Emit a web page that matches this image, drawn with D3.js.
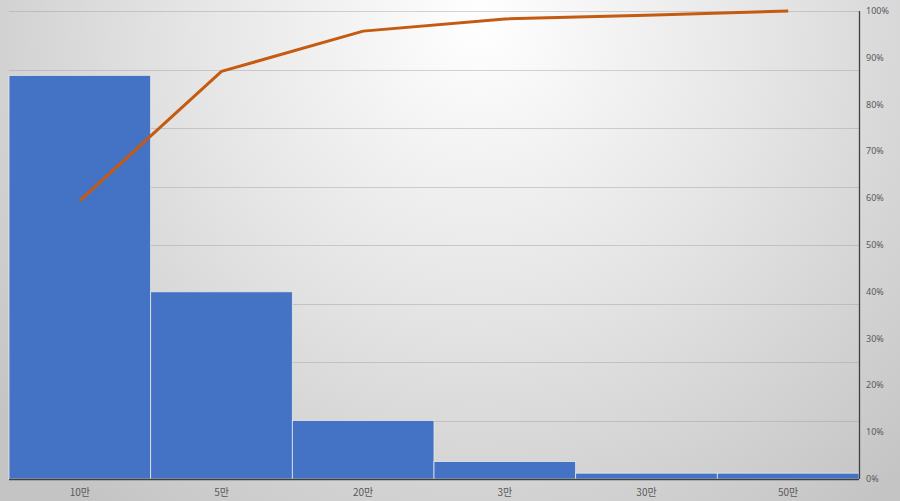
<!DOCTYPE html>
<html><head><meta charset="utf-8">
<script src="https://cdn.jsdelivr.net/npm/d3@7"></script>
<style>html,body{margin:0;padding:0;overflow:hidden;}svg{display:block;}</style>
</head><body>
<svg id="c" width="900" height="501"></svg>
<script>
const categories = ["10만", "5만", "20만", "3만", "30만", "50만"];
const counts = [69, 32, 10, 3, 1, 1];
const cumulativePct = [59.5, 87.1, 95.7, 98.3, 99.1, 100];
const leftTicks = [0, 10, 20, 30, 40, 50, 60, 70, 80];
const rightTicks = [0, 10, 20, 30, 40, 50, 60, 70, 80, 90, 100];

const W = 900, H = 501;
const m = {left: 9, right: 41, top: 11, bottom: 22};
const svg = d3.select("#c");

const defs = svg.append("defs");
const rg = defs.append("radialGradient").attr("id", "bg")
  .attr("gradientUnits", "userSpaceOnUse")
  .attr("cx", 480).attr("cy", 20).attr("r", 620);
rg.append("stop").attr("offset", "0%").attr("stop-color", "#ffffff");
rg.append("stop").attr("offset", "45%").attr("stop-color", "#e6e6e6");
rg.append("stop").attr("offset", "100%").attr("stop-color", "#c4c4c4");
svg.append("rect").attr("width", W).attr("height", H).attr("fill", "url(#bg)");

const x = d3.scaleBand().domain(categories).range([m.left, W - m.right]).padding(0);
const y = d3.scaleLinear().domain([0, 80]).range([H - m.bottom, m.top]);
const y2 = d3.scaleLinear().domain([0, 100]).range([H - m.bottom, m.top]);

// gridlines
svg.append("g").selectAll("line").data(leftTicks).join("line")
  .attr("x1", m.left).attr("x2", W - m.right)
  .attr("y1", d => Math.round(y(d)) + 0.5).attr("y2", d => Math.round(y(d)) + 0.5)
  .attr("stroke", "#a0a0a0").attr("stroke-opacity", 0.45).attr("stroke-width", 1);

// bars
svg.append("g").selectAll("rect").data(categories).join("rect")
  .attr("x", d => x(d)).attr("width", x.bandwidth())
  .attr("y", (d, i) => y(counts[i])).attr("height", (d, i) => y(0) - y(counts[i]))
  .attr("fill", "#4472C4").attr("stroke", "#e8e8e8").attr("stroke-width", 0.8);

// axes lines
svg.append("line").attr("x1", m.left).attr("x2", W - m.right)
  .attr("y1", y(0) + 0.5).attr("y2", y(0) + 0.5).attr("stroke", "#404040").attr("stroke-width", 1.3);
svg.append("line").attr("x1", W - m.right + 0.5).attr("x2", W - m.right + 0.5)
  .attr("y1", m.top).attr("y2", y(0)).attr("stroke", "#404040").attr("stroke-width", 1.3);

// cumulative line
const line = d3.line().x((d, i) => x(categories[i]) + x.bandwidth() / 2).y(d => y2(d));
svg.append("path").datum(cumulativePct).attr("d", line)
  .attr("fill", "none").attr("stroke", "#C55A11").attr("stroke-width", 3)
  .attr("stroke-linejoin", "round");

// right axis labels
svg.append("g").selectAll("text").data(rightTicks).join("text")
  .attr("x", W - m.right + 7).attr("y", d => y2(d) + 3)
  .attr("font-family", "'Noto Sans', sans-serif").attr("font-size", 9)
  .attr("fill", "#595959").text(d => d + "%");

// category labels
svg.append("g").selectAll("text").data(categories).join("text")
  .attr("x", d => x(d) + x.bandwidth() / 2).attr("y", H - 5)
  .attr("text-anchor", "middle")
  .attr("font-family", "'Noto Sans CJK KR', 'Noto Sans', sans-serif").attr("font-size", 10)
  .attr("fill", "#595959").text(d => d);
</script>
</body></html>
